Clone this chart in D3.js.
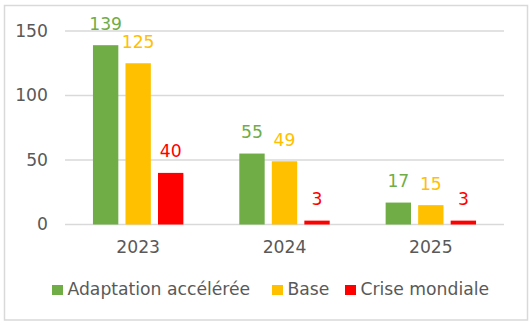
<!DOCTYPE html>
<html>
<head>
<meta charset="utf-8">
<script src="https://cdn.jsdelivr.net/npm/d3@7"></script>
<style>
  body { margin: 0; background: #fff; }
  svg text { font-family: "DejaVu Sans", sans-serif; }
</style>
</head>
<body>
<svg id="chart" width="532" height="327"></svg>
<script>
// scenario values per year
var years = ['2023', '2024', '2025'];
var seriesNames = ['Adaptation accélérée', 'Base', 'Crise mondiale'];
var seriesColors = ['#70AD47', '#FFC000', '#FF0000'];
var adaptation = [139, 55, 17];
var base = [125, 49, 15];
var crise = [40, 3, 3];
var yTicks = [0, 50, 100, 150];

var svg = d3.select('#chart');
var grey = '#595959';
var fs = 17.2;

// outer frame
svg.append('rect')
  .attr('x', 4.5).attr('y', 5.5)
  .attr('width', 523).attr('height', 314.5)
  .attr('fill', '#fff')
  .attr('stroke', '#d9d9d9')
  .attr('stroke-width', 1.5);

var x0 = d3.scaleBand().domain(years).range([65, 504]);
var x1 = d3.scaleBand().domain(seriesNames).range([0, x0.bandwidth()])
  .paddingInner(0.22).paddingOuter(0.86);
var y = d3.scaleLinear().domain([0, 150]).range([224.5, 31]);

// gridlines
svg.append('g').selectAll('line')
  .data(yTicks)
  .enter().append('line')
  .attr('x1', 65).attr('x2', 504)
  .attr('y1', d => y(d)).attr('y2', d => y(d))
  .attr('stroke', '#d9d9d9')
  .attr('stroke-width', 1.5);

// y tick labels
svg.append('g').selectAll('text')
  .data(yTicks)
  .enter().append('text')
  .attr('x', 48)
  .attr('y', d => y(d) + 5.5)
  .attr('text-anchor', 'end')
  .attr('font-size', fs)
  .attr('fill', grey)
  .text(d => d);

var rows = [];
years.forEach(function(yr, i) {
  rows.push({ year: yr, name: seriesNames[0], value: adaptation[i], color: seriesColors[0] });
  rows.push({ year: yr, name: seriesNames[1], value: base[i], color: seriesColors[1] });
  rows.push({ year: yr, name: seriesNames[2], value: crise[i], color: seriesColors[2] });
});

var bars = svg.append('g');
bars.selectAll('rect')
  .data(rows)
  .enter().append('rect')
  .attr('x', d => x0(d.year) + x1(d.name))
  .attr('y', d => y(d.value))
  .attr('width', x1.bandwidth())
  .attr('height', d => y(0) - y(d.value))
  .attr('fill', d => d.color);

// value labels
bars.selectAll('text')
  .data(rows)
  .enter().append('text')
  .attr('x', d => x0(d.year) + x1(d.name) + x1.bandwidth() / 2)
  .attr('y', d => y(d.value) - 15.5)
  .attr('text-anchor', 'middle')
  .attr('font-size', fs)
  .attr('fill', d => d.color)
  .text(d => d.value);

// x axis labels
svg.append('g').selectAll('text')
  .data(years)
  .enter().append('text')
  .attr('x', d => x0(d) + x0.bandwidth() / 2)
  .attr('y', 253)
  .attr('text-anchor', 'middle')
  .attr('font-size', fs)
  .attr('fill', grey)
  .text(d => d);

// legend
var legendX = [52, 272, 345];
var legend = svg.append('g').selectAll('g')
  .data(seriesNames)
  .enter().append('g')
  .attr('transform', (d, i) => 'translate(' + legendX[i] + ',285)');
legend.append('rect')
  .attr('width', 11).attr('height', 10)
  .attr('fill', (d, i) => seriesColors[i]);
legend.append('text')
  .attr('x', 15.5).attr('y', 10)
  .attr('font-size', fs)
  .attr('fill', grey)
  .text(d => d);
</script>
</body>
</html>
